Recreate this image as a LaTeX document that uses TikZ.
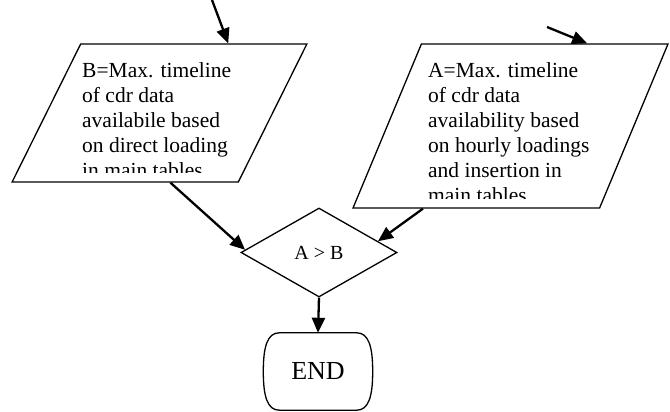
\documentclass[tikz,border=0pt]{standalone}
\usepackage{fontspec}
\setmainfont{Liberation Serif}
\usetikzlibrary{shapes.geometric,arrows.meta,calc}

\begin{document}
\begin{tikzpicture}[x=1pt,y=-1pt,
    data/.style={trapezium,draw,line width=1.3pt,inner sep=4pt,trapezium stretches=true},
    decide/.style={diamond,draw,line width=1.3pt,inner sep=0pt,minimum width=156pt,minimum height=89pt,font=\fontsize{20}{22}\selectfont},
    stopbox/.style={rectangle,inner sep=0pt,minimum width=109pt,minimum height=77pt,font=\fontsize{26}{30}\selectfont},
    txt/.style={align=left,inner sep=0pt,anchor=north west,font=\fontsize{21.5}{25}\selectfont},
    flow/.style={-{Triangle[length=15pt,width=13pt]},line width=2.3pt}]
    \useasboundingbox (0,0) rectangle (670,412);

    \node [data,trapezium left angle=66.5,trapezium right angle=113.5,minimum width=295pt,minimum height=138pt] (MaxB) at (159.5,113) {};
    \node [data,trapezium left angle=69,trapezium right angle=111,minimum width=315pt,minimum height=164pt] (MaxA) at (510.5,126) {};
    \node [decide] (cmp) at (319,252.5) {A > B};
    \node [stopbox] (END) at (318,371.5) {END};
    \draw [line width=1.3pt] ($(END.north west)+(16,0)$) -- ($(END.north east)+(-16,0)$)
        .. controls ($(END.north east)+(-4,0)$) and ($(END.north east)+(0,14)$) .. (END.east)
        .. controls ($(END.south east)+(0,-14)$) and ($(END.south east)+(-4,0)$) .. ($(END.south east)+(-16,0)$)
        -- ($(END.south west)+(16,0)$)
        .. controls ($(END.south west)+(4,0)$) and ($(END.south west)+(0,-14)$) .. (END.west)
        .. controls ($(END.north west)+(0,14)$) and ($(END.north west)+(4,0)$) .. cycle;

    \begin{scope}
        \clip (0,0) rectangle (670,172);
        \node [txt] (txtB) at (82,62) {B=Max. timeline\\of cdr data\\availabile based\\on direct loading\\in main tables};
    \end{scope}
    \begin{scope}
        \clip (0,0) rectangle (670,198);
        \node [txt] (txtA) at (428,62) {A=Max. timeline\\of cdr data\\availability based\\on hourly loadings\\and insertion in\\main tables};
    \end{scope}

    \coordinate (inB) at (212,0);
    \coordinate (inA) at (547,27);

    \draw [flow] (inB) -- ($(MaxB.top left corner)!0.65!(MaxB.top right corner)$);
    \draw [flow] (inA) -- ($(MaxA.top left corner)!0.67!(MaxA.top right corner)$);
    \draw [flow] ($(MaxB.bottom left corner)!0.70!(MaxB.bottom right corner)$) -- ($(cmp.west)!0.06!(cmp.north)$);
    \draw [flow] ($(MaxA.bottom left corner)!0.286!(MaxA.bottom right corner)$) -- ($(cmp.east)!0.25!(cmp.north)$);
    \draw [flow] (cmp.south) -- (END.north);
\end{tikzpicture}
\end{document}
